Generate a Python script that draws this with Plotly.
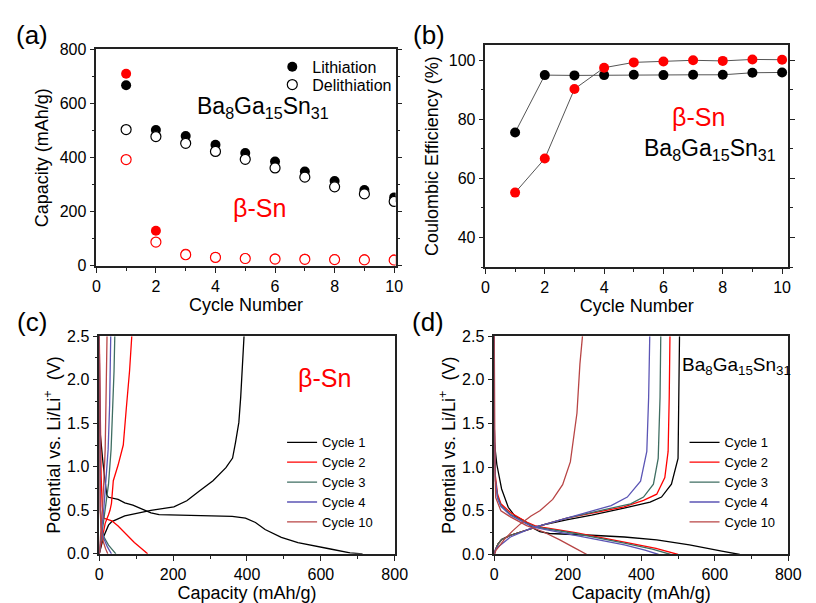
import plotly.graph_objects as go

W, H = 816, 603
FONT = "Liberation Sans, Arial, sans-serif"

# ---------------- (a) capacity vs cycle ----------------
cycles = [1, 2, 3, 4, 5, 6, 7, 8, 9, 10]
bgs_lith = [668, 502, 480, 448, 417, 386, 349, 314, 280, 253]
bgs_delith = [504, 478, 453, 423, 394, 362, 328, 292, 266, 238]
sn_lith = [710, 130, 45, 33, 29, 27, 26, 25, 24, 23]
sn_delith = [393, 88, 41, 31, 27, 25, 24, 23, 22, 21]

# ---------------- (b) coulombic efficiency ----------------
ce_bgs = [75.5, 94.9, 94.8, 94.9, 95.0, 94.9, 95.0, 95.0, 95.7, 95.8]
ce_sn = [55.2, 66.7, 90.2, 97.4, 99.2, 99.5, 99.9, 99.7, 100.2, 100.1]

# ---------------- (c) beta-Sn voltage profiles ----------------
sn_c1_lith_x = [0, 0, 10, 20, 25, 40, 51, 69, 91, 113, 140, 162, 200, 300, 360, 396, 423, 449, 493, 538, 591, 626, 679, 713]
sn_c1_lith_v = [2.5, 1.5, 1.05, 0.68, 0.65, 0.635, 0.625, 0.585, 0.56, 0.52, 0.47, 0.45, 0.445, 0.44, 0.43, 0.41, 0.36, 0.28, 0.19, 0.13, 0.09, 0.056, 0.011, 0.0]
sn_c1_del_x = [0, 5, 12, 25, 34, 69, 140, 202, 237, 272, 308, 343, 361, 369, 378, 383, 387, 392]
sn_c1_del_v = [0.0, 0.1, 0.2, 0.33, 0.37, 0.435, 0.5, 0.54, 0.61, 0.725, 0.84, 0.99, 1.1, 1.28, 1.51, 1.8, 2.18, 2.5]

sn_c2_lith_x = [0, 2, 5, 8, 12, 20, 34, 51, 69, 95, 115, 131]
sn_c2_lith_v = [2.5, 1.5, 0.9, 0.55, 0.41, 0.4, 0.38, 0.32, 0.24, 0.13, 0.06, 0.0]
sn_c2_del_x = [0, 5, 10, 16, 25, 29, 33, 35, 38, 51, 65, 73, 82, 88]
sn_c2_del_v = [0.0, 0.12, 0.25, 0.35, 0.45, 0.5, 0.58, 0.72, 0.84, 1.02, 1.25, 1.66, 2.1, 2.5]

sn_c3_lith_x = [0, 1, 3, 6, 12, 25, 38, 45]
sn_c3_lith_v = [2.5, 1.0, 0.5, 0.3, 0.2, 0.1, 0.03, 0.0]
sn_c3_del_x = [0, 3, 8, 15, 25, 32, 37, 40, 42]
sn_c3_del_v = [0.0, 0.1, 0.3, 0.5, 0.8, 1.2, 1.7, 2.1, 2.5]

sn_c4_lith_x = [0, 1, 3, 6, 12, 22, 33]
sn_c4_lith_v = [2.5, 1.0, 0.5, 0.3, 0.18, 0.08, 0.0]
sn_c4_del_x = [0, 3, 7, 12, 18, 24, 28, 30, 31]
sn_c4_del_v = [0.0, 0.1, 0.3, 0.5, 0.8, 1.2, 1.7, 2.1, 2.5]

sn_c10_lith_x = [0, 1, 2, 5, 10, 17, 23]
sn_c10_lith_v = [2.5, 1.0, 0.5, 0.3, 0.15, 0.06, 0.0]
sn_c10_del_x = [0, 2, 5, 8, 12, 16, 18, 20, 21]
sn_c10_del_v = [0.0, 0.1, 0.3, 0.5, 0.8, 1.2, 1.7, 2.1, 2.5]

# ---------------- (d) Ba8Ga15Sn31 voltage profiles ----------------
bg_c1_lith_x = [0, 0, 7, 20, 38, 56, 84, 106, 124, 150, 265, 354, 442, 531, 619, 668]
bg_c1_lith_v = [2.5, 1.3, 1.03, 0.75, 0.54, 0.44, 0.38, 0.3, 0.26, 0.24, 0.22, 0.2, 0.167, 0.11, 0.037, 0.0]
bg_c1_del_x = [0, 3, 10, 20, 44, 88, 106, 133, 200, 265, 353, 424, 455, 482, 500, 502, 504]
bg_c1_del_v = [0.0, 0.05, 0.12, 0.17, 0.22, 0.28, 0.31, 0.34, 0.4, 0.45, 0.53, 0.6, 0.657, 0.805, 1.1, 1.6, 2.5]

bg_c2_lith_x = [0, 0, 3, 9, 18, 44, 88, 110, 133, 221, 354, 440, 500]
bg_c2_lith_v = [2.5, 1.5, 0.9, 0.69, 0.58, 0.48, 0.37, 0.33, 0.31, 0.25, 0.14, 0.07, 0.0]
bg_c2_del_x = [0, 3, 10, 20, 44, 88, 106, 133, 200, 265, 353, 406, 442, 464, 473, 476, 478]
bg_c2_del_v = [0.0, 0.05, 0.12, 0.17, 0.22, 0.28, 0.31, 0.34, 0.42, 0.47, 0.545, 0.62, 0.69, 0.88, 1.18, 1.8, 2.5]

bg_c3_lith_x = [0, 0, 3, 9, 18, 44, 88, 110, 133, 221, 354, 430, 480]
bg_c3_lith_v = [2.5, 1.5, 0.85, 0.66, 0.56, 0.46, 0.36, 0.32, 0.3, 0.24, 0.13, 0.06, 0.0]
bg_c3_del_x = [0, 3, 10, 20, 44, 88, 106, 133, 200, 265, 330, 371, 406, 433, 446, 451, 453]
bg_c3_del_v = [0.0, 0.05, 0.12, 0.17, 0.22, 0.28, 0.31, 0.34, 0.42, 0.48, 0.54, 0.58, 0.657, 0.805, 1.1, 1.8, 2.5]

bg_c4_lith_x = [0, 0, 3, 9, 18, 44, 88, 110, 133, 221, 354, 410, 447]
bg_c4_lith_v = [2.5, 1.5, 0.85, 0.64, 0.55, 0.45, 0.35, 0.31, 0.29, 0.22, 0.11, 0.05, 0.0]
bg_c4_del_x = [0, 3, 10, 18, 44, 88, 106, 133, 200, 265, 318, 362, 398, 415, 420, 423]
bg_c4_del_v = [0.0, 0.05, 0.09, 0.11, 0.2, 0.28, 0.31, 0.34, 0.42, 0.49, 0.56, 0.657, 0.84, 1.18, 1.8, 2.5]

bg_c10_lith_x = [0, 0, 2, 4, 18, 44, 88, 133, 177, 221, 252]
bg_c10_lith_v = [2.5, 1.5, 0.9, 0.65, 0.5, 0.43, 0.33, 0.26, 0.17, 0.07, 0.0]
bg_c10_del_x = [0, 5, 15, 27, 50, 71, 100, 124, 159, 186, 207, 225, 233, 240]
bg_c10_del_v = [0.0, 0.05, 0.1, 0.17, 0.27, 0.35, 0.44, 0.5, 0.63, 0.8, 1.06, 1.62, 2.18, 2.5]

cycle_names = ["Cycle 1", "Cycle 2", "Cycle 3", "Cycle 4", "Cycle 10"]
cycle_colors = ["#000000", "#ff0000", "#3f6e62", "#5b55b5", "#b84545"]

RED = "#ff0000"

fig = go.Figure()

# (a)
fig.add_trace(go.Scatter(x=cycles, y=bgs_lith, mode="markers", name="Lithiation",
                         marker=dict(size=10, color="black", line=dict(width=0)),
                         xaxis="x", yaxis="y", legend="legend"))
fig.add_trace(go.Scatter(x=cycles, y=bgs_delith, mode="markers", name="Delithiation",
                         marker=dict(size=10, color="white", line=dict(width=1.2, color="black")),
                         xaxis="x", yaxis="y", legend="legend2"))
fig.add_trace(go.Scatter(x=cycles, y=sn_lith, mode="markers", showlegend=False,
                         marker=dict(size=10, color=RED, line=dict(width=0)),
                         xaxis="x", yaxis="y"))
fig.add_trace(go.Scatter(x=cycles, y=sn_delith, mode="markers", showlegend=False,
                         marker=dict(size=10, color="white", line=dict(width=1.2, color=RED)),
                         xaxis="x", yaxis="y"))

# (b)
fig.add_trace(go.Scatter(x=cycles, y=ce_bgs, mode="lines+markers", showlegend=False,
                         line=dict(color="#555555", width=1),
                         marker=dict(size=10, color="black"),
                         xaxis="x2", yaxis="y2"))
fig.add_trace(go.Scatter(x=cycles, y=ce_sn, mode="lines+markers", showlegend=False,
                         line=dict(color="#555555", width=1),
                         marker=dict(size=10, color=RED),
                         xaxis="x2", yaxis="y2"))

# (c), (d)
sn_curves = [
    (sn_c1_lith_x, sn_c1_lith_v, sn_c1_del_x, sn_c1_del_v),
    (sn_c2_lith_x, sn_c2_lith_v, sn_c2_del_x, sn_c2_del_v),
    (sn_c3_lith_x, sn_c3_lith_v, sn_c3_del_x, sn_c3_del_v),
    (sn_c4_lith_x, sn_c4_lith_v, sn_c4_del_x, sn_c4_del_v),
    (sn_c10_lith_x, sn_c10_lith_v, sn_c10_del_x, sn_c10_del_v),
]
bg_curves = [
    (bg_c1_lith_x, bg_c1_lith_v, bg_c1_del_x, bg_c1_del_v),
    (bg_c2_lith_x, bg_c2_lith_v, bg_c2_del_x, bg_c2_del_v),
    (bg_c3_lith_x, bg_c3_lith_v, bg_c3_del_x, bg_c3_del_v),
    (bg_c4_lith_x, bg_c4_lith_v, bg_c4_del_x, bg_c4_del_v),
    (bg_c10_lith_x, bg_c10_lith_v, bg_c10_del_x, bg_c10_del_v),
]
for i, (lx, lv, dx, dv) in enumerate(sn_curves):
    fig.add_trace(go.Scatter(x=lx + [None] + dx, y=lv + [None] + dv, mode="lines",
                             name=cycle_names[i], line=dict(color=cycle_colors[i], width=1.3),
                             xaxis="x3", yaxis="y3", legend="legend3"))
for i, (lx, lv, dx, dv) in enumerate(bg_curves):
    fig.add_trace(go.Scatter(x=lx + [None] + dx, y=lv + [None] + dv, mode="lines",
                             name=cycle_names[i], line=dict(color=cycle_colors[i], width=1.3),
                             xaxis="x4", yaxis="y4", legend="legend4"))


def px_x(p):
    return p / W


def px_y(p):
    return 1 - p / H


AX = dict(showline=True, linecolor="#222222", linewidth=1.5,
          ticks="outside", ticklen=5, tickwidth=1.3, tickcolor="#222222",
          showgrid=False, zeroline=False,
          tickfont=dict(size=16, color="black", family=FONT),
          title_font=dict(size=18, color="black", family=FONT))
XAX = dict(AX, mirror=True)
YAX = dict(AX, mirror="ticks")
YAX2 = dict(AX, mirror=True)


def minor(d):
    return dict(ticks="outside", ticklen=3, tickwidth=1.3, tickcolor="#222222", dtick=d, showgrid=False)


layout = dict(
    width=W, height=H, margin=dict(l=0, r=0, t=0, b=0),
    paper_bgcolor="white", plot_bgcolor="white",
    font=dict(family=FONT, color="black"),
    xaxis=dict(XAX, domain=[px_x(94.3), px_x(400)], range=[0, 10.05], dtick=2, minor=minor(1),
               title=dict(text="Cycle Number", standoff=2), anchor="y"),
    yaxis=dict(YAX, domain=[px_y(265.3), px_y(42.7)], range=[0, 800], dtick=200, minor=minor(100),
               title=dict(text="Capacity (mAh/g)", standoff=6), anchor="x"),
    xaxis2=dict(XAX, domain=[px_x(491.7), px_x(800.7)], range=[0, 10.2], dtick=2, minor=minor(1),
                title=dict(text="Cycle Number", standoff=2), anchor="y2"),
    yaxis2=dict(YAX, domain=[px_y(266.7), px_y(38.3)], range=[30, 105], tickvals=[40, 60, 80, 100],
                minor=dict(minor(10), tick0=0), title=dict(text="Coulombic Efficiency (%)", standoff=5), anchor="x2"),
    xaxis3=dict(XAX, domain=[px_x(97.3), px_x(399)], range=[0, 800], dtick=200, minor=minor(100),
                title=dict(text="Capacity (mAh/g)", standoff=0), anchor="y3"),
    yaxis3=dict(YAX2, domain=[px_y(561.7), px_y(337.7)], range=[0, 2.5], dtick=0.5, tickformat=".1f",
                minor=minor(0.25), title=dict(text="Potential vs. Li/Li<sup>+</sup>  (V)", standoff=2), anchor="x3"),
    xaxis4=dict(XAX, domain=[px_x(500.7), px_x(801)], range=[0, 800], dtick=200, minor=minor(100),
                title=dict(text="Capacity (mAh/g)", standoff=0), anchor="y4"),
    yaxis4=dict(YAX2, domain=[px_y(562.3), px_y(337.7)], range=[0, 2.5], dtick=0.5, tickformat=".1f",
                minor=minor(0.25), title=dict(text="Potential vs. Li/Li<sup>+</sup>  (V)", standoff=2), anchor="x4"),
    legend=dict(x=px_x(274), y=px_y(43), xanchor="left", yanchor="top", bgcolor="rgba(0,0,0,0)",
                font=dict(size=16, family=FONT, color="black"), borderwidth=0),
    legend2=dict(x=px_x(274), y=px_y(61.4), xanchor="left", yanchor="top", bgcolor="rgba(0,0,0,0)",
                 font=dict(size=16, family=FONT, color="black"), borderwidth=0),
    legend3=dict(x=px_x(284), y=px_y(431.5), xanchor="left", yanchor="top", bgcolor="rgba(0,0,0,0)",
                 font=dict(size=13, family=FONT, color="black"), borderwidth=0, tracegroupgap=0),
    legend4=dict(x=px_x(695), y=px_y(431.5), xanchor="left", yanchor="top", bgcolor="rgba(0,0,0,0)",
                 font=dict(size=13, family=FONT, color="black"), borderwidth=0, tracegroupgap=0),
)
fig.update_layout(**layout)


def note(text, x, y, size, color="black", xanchor="center", yanchor="middle"):
    fig.add_annotation(text=text, x=px_x(x), y=px_y(y), xref="paper", yref="paper",
                       showarrow=False, xanchor=xanchor, yanchor=yanchor,
                       font=dict(size=size, color=color, family=FONT))


note("(a)", 29, 28, 26)
note("(b)", 434, 28, 26)
note("(c)", 29, 323, 26)
note("(d)", 433, 323, 26)

BGS = "Ba<sub>8</sub>Ga<sub>15</sub>Sn<sub>31</sub>"
note(BGS, 195, 102, 23, xanchor="left")
note("β-Sn", 261, 206, 25, color=RED)
note("β-Sn", 709, 112, 25, color=RED)
note(BGS, 652, 146, 23, xanchor="left")
note("β-Sn", 327, 381, 25, color=RED)
note(BGS, 690, 368, 19, xanchor="left")

fig.write_html("out.html")
